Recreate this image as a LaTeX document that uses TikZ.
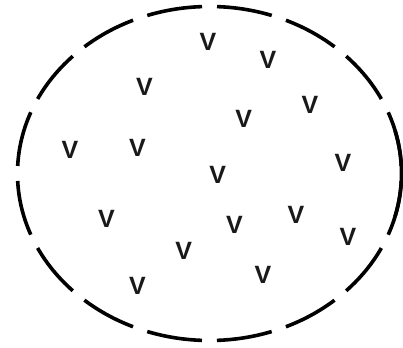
\documentclass[tikz,border=0pt]{standalone}
\usepackage{fontspec}
\setmainfont{Liberation Sans}
\begin{document}
\begin{tikzpicture}[x=1pt,y=1pt,
  vlabel/.style={inner sep=0pt, text=black!90, font=\fontsize{25}{25}\selectfont\bfseries},
  rimline/.style={line width=3.6pt, dash pattern=on 55.58pt off 15pt, dash phase=63.08pt},
  rimfill/.style={line width=3.6pt}]
\useasboundingbox (0,0) rectangle (403,347);
\coordinate (c) at (209.5,173.5);
\draw[rimline] (c) ellipse [x radius=192pt, y radius=167pt];
\draw[rimfill] ([shift={(-15:192pt and 167pt)}]c) arc[start angle=-15, end angle=15, x radius=192pt, y radius=167pt];
\node[vlabel] (v1) at (208,305) {V};
\node[vlabel] (v2) at (268,287) {V};
\node[vlabel] (v3) at (144.5,260.3) {V};
\node[vlabel] (v4) at (310,242) {V};
\node[vlabel] (v5) at (243.8,227.8) {V};
\node[vlabel] (v6) at (70,197.5) {V};
\node[vlabel] (v7) at (137.5,199.5) {V};
\node[vlabel] (v8) at (343,184.5) {V};
\node[vlabel] (v9) at (217.8,172.5) {V};
\node[vlabel] (v10) at (106.5,128.3) {V};
\node[vlabel] (v11) at (296,132) {V};
\node[vlabel] (v12) at (234.5,121.8) {V};
\node[vlabel] (v13) at (348,110.5) {V};
\node[vlabel] (v14) at (183.7,96.5) {V};
\node[vlabel] (v15) at (263,71.8) {V};
\node[vlabel] (v16) at (137.5,61.5) {V};
\end{tikzpicture}
\end{document}
